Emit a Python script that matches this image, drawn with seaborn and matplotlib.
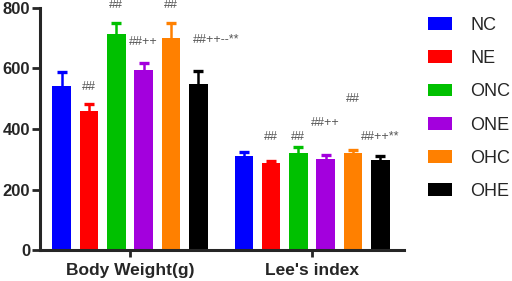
import matplotlib
matplotlib.use("Agg")
import matplotlib.pyplot as plt
import seaborn as sns
import pandas as pd
import numpy as np

metrics = ["Body Weight(g)", "Lee's index"]
groups = ["NC", "NE", "ONC", "ONE", "OHC", "OHE"]
colors = ["#0000FF", "#FF0000", "#00C000", "#A300DD", "#FF8000", "#000000"]

body_weight = [542, 459, 714, 595, 700, 548]
body_weight_err = [46, 24, 36, 23, 50, 43]
lees_index = [311, 287, 321, 302, 321, 297]
lees_index_err = [13, 7, 20, 12, 10, 14]

bw_notes = ["", "##", "##", "##++", "##", "##++--**"]
bw_note_y = [0, 539, 810, 688, 810, 694]
li_notes = ["", "##", "##", "##++", "##", "##++**"]
li_note_y = [0, 374, 374, 420, 499, 374]

df = pd.DataFrame({
    "metric": [metrics[0]] * 6 + [metrics[1]] * 6,
    "group": groups * 2,
    "value": body_weight + lees_index,
})

sns.set_style("ticks")
plt.rcParams["font.family"] = ["Liberation Sans", "DejaVu Sans"]

fig = plt.figure(figsize=(5.12, 2.81), dpi=100)
ax = fig.add_axes([0.078, 0.110, 0.711, 0.862])

sns.barplot(data=df, x="metric", y="value", hue="group", hue_order=groups,
            palette=colors, width=0.9, gap=0.32, errorbar=None, saturation=1,
            linewidth=0, ax=ax, legend=True)

patches = sorted([p for p in ax.patches if p.get_height() > 0][:12],
                 key=lambda p: p.get_x())
vals = body_weight + lees_index
errs = body_weight_err + lees_index_err
notes = bw_notes + li_notes
note_y = bw_note_y + li_note_y
for i, p in enumerate(patches):
    xc = p.get_x() + p.get_width() / 2
    col = colors[i % 6]
    eb = ax.errorbar([xc], [vals[i]], yerr=[[0], [errs[i]]], fmt="none",
                     ecolor=col, elinewidth=1.8, capsize=3.6, capthick=2.4,
                     zorder=1)
    caps = eb[1]
    if len(caps) == 2:
        caps[0].set_visible(False)
    if notes[i]:
        dx = 0.0
        if notes[i] == "##++--**":
            dx = 0.10
        ax.text(xc + dx, note_y[i], notes[i], ha="center", va="center",
                fontsize=9, color="#555555", clip_on=False)

ax.set_ylim(0, 800)
ax.set_xlim(-0.495, 1.505)
ax.set_yticks([0, 200, 400, 600, 800])
ax.set_xlabel("")
ax.set_ylabel("")
for s in ["top", "right"]:
    ax.spines[s].set_visible(False)
for s in ["left", "bottom"]:
    ax.spines[s].set_linewidth(2.2)
ax.tick_params(axis="y", length=6, width=2, labelsize=12, pad=1)
ax.tick_params(axis="x", length=5, width=2, labelsize=12.5, pad=4)
for t in ax.get_yticklabels() + ax.get_xticklabels():
    t.set_fontweight("bold")

handles, labels = ax.get_legend_handles_labels()
ax.legend_.remove()
fig.legend(handles, labels, loc="upper left", bbox_to_anchor=(0.836, 0.94),
           frameon=False, fontsize=13, handlelength=1.35, handleheight=0.7,
           labelspacing=0.9, handletextpad=1.0, borderaxespad=0, borderpad=0)

fig.savefig("out.png", dpi=100)
